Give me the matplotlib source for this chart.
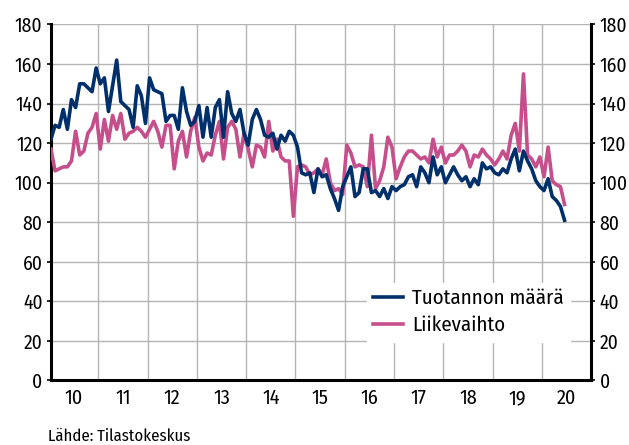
import matplotlib
matplotlib.use("Agg")
import matplotlib.pyplot as plt
import numpy as np

plt.rcParams['font.family'] = ['Fira Sans Condensed', 'PT Sans Narrow', 'DejaVu Sans']

# Monthly data, Jan 2010 onwards
tuotanto = [122, 129, 128, 137, 127, 142, 138, 150, 150, 148, 146, 158,
            150, 153, 136, 149, 162, 141, 139, 137, 128, 149, 144, 130,
            153, 147, 146, 145, 131, 134, 134, 127, 148, 136, 129, 131,
            139, 123, 138, 123, 138, 142, 123, 146, 135, 131, 137, 125,
            119, 132, 137, 132, 124, 123, 125, 117, 124, 121, 126, 124,
            118, 105, 104, 105, 95, 107, 103, 104, 97, 92, 86, 98,
            103, 108, 93, 95, 107, 107, 95, 96, 93, 97, 92, 98,
            96, 98, 99, 103, 104, 98, 108, 105, 100, 113, 104, 108,
            100, 104, 108, 104, 101, 103, 98, 102, 99, 110, 107, 108,
            105, 104, 107, 105, 112, 117, 106, 116, 111, 107, 101, 98,
            96, 102, 93, 91, 88, 81]

liikevaihto = [117, 106, 107, 108, 108, 111, 126, 114, 116, 125, 128, 135,
               117, 132, 121, 134, 127, 135, 122, 125, 126, 128, 126, 123,
               127, 131, 126, 118, 129, 129, 107, 121, 126, 113, 126, 133,
               118, 111, 115, 114, 124, 131, 112, 128, 131, 127, 113, 125,
               117, 108, 119, 118, 113, 131, 116, 122, 113, 111, 111, 83,
               108, 109, 108, 104, 105, 107, 104, 112, 100, 96, 97, 94,
               119, 115, 108, 109, 108, 98, 124, 97, 101, 108, 123, 118,
               102, 108, 113, 116, 116, 114, 112, 113, 110, 122, 113, 118,
               110, 114, 114, 116, 119, 116, 108, 114, 113, 117, 114, 112,
               109, 112, 116, 112, 124, 130, 116, 155, 114, 112, 108, 113,
               103, 118, 101, 99, 98, 89]

year_labels = ['10', '11', '12', '13', '14', '15', '16', '17', '18', '19', '20']
series_names = ['Tuotannon määrä', 'Liikevaihto']
y_ticks = list(range(0, 181, 20))

navy = '#00306b'
pink = '#c64f8b'

fig = plt.figure(figsize=(6.29, 4.45), dpi=100)
ax = fig.add_axes([0.081, 0.145, 0.859, 0.800])

x1 = np.arange(len(tuotanto))
x2 = np.arange(len(liikevaihto))

ax.set_xlim(0, 131.5)
ax.set_ylim(0, 180)

# grid
for k in range(1, len(year_labels)):
    ax.axvline(12 * k - 0.5, color='#b4b4b4', lw=1.0, zorder=1)
for v in y_ticks[1:]:
    ax.axhline(v, color='#b4b4b4', lw=1.0, zorder=1)

ax.plot(x2, liikevaihto, color=pink, lw=2.6, zorder=3, label=series_names[1])
ax.plot(x1, tuotanto, color=navy, lw=2.6, zorder=4, label=series_names[0])

ax.set_xticks([12 * k + 5.5 for k in range(len(year_labels))])
ax.set_xticklabels(year_labels)
ax.tick_params(axis='x', length=0, pad=6, labelsize=14.5)

ax.set_yticks(y_ticks)
ax.tick_params(axis='y', length=3, width=1.2, pad=3, labelsize=14,
               right=True, labelright=True, direction='out')

for s in ['left', 'right', 'bottom']:
    ax.spines[s].set_linewidth(2.2)
    ax.spines[s].set_color('black')
ax.spines['top'].set_visible(False)

handles, labels = ax.get_legend_handles_labels()
order = [1, 0]
leg = ax.legend([handles[i] for i in order], [labels[i] for i in order],
                loc='lower right', bbox_to_anchor=(0.98, 0.08),
                frameon=True, fancybox=False, framealpha=1.0,
                edgecolor='white', facecolor='white',
                fontsize=15, handlelength=1.4, handletextpad=0.45,
                borderpad=0.3, labelspacing=0.35)
leg.set_zorder(5)

fig.text(0.077, 0.002, 'Lähde: Tilastokeskus', fontsize=12, ha='left', va='bottom')

fig.savefig('out.png', dpi=100)
